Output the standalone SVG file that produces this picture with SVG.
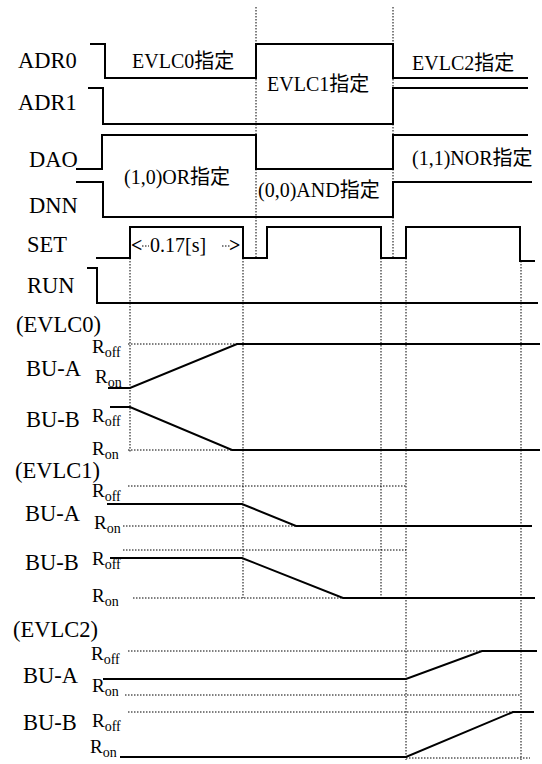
<svg xmlns="http://www.w3.org/2000/svg" width="542" height="764" viewBox="0 0 542 764">
<style>
text{font-family:'Liberation Serif','Times New Roman',serif;fill:#000}
.cjk{font-family:'Noto Sans CJK JP',sans-serif}
.lbl{font-size:22.5px}
.note{font-size:20px}
.arr{font-size:20px;font-weight:bold}
.r{font-size:19px}
.sub{font-size:14px}
.sig{fill:none;stroke:#000;stroke-width:2}
.dot{fill:none;stroke:#000;stroke-width:1;stroke-dasharray:1.5,1.5}
</style>
<rect width="542" height="764" fill="#fff"/>
<g id="connectors">
<path class="dot" d="M256,7V258M393,7V258M130,258V453M243,258V598M381,258V598M406,258V760M521,261V760"/>
<path class="dot" d="M128,344H237M128,450H232M128,486H406M123,526H296M123,550H406M133,598H343M128,651H482M125,695H521M128,712H513M406,758H530"/>
<path class="dot" d="M142,246H149M222,246H230"/>
</g>
<g id="ADR0"><text class="lbl" x="18" y="68">ADR0</text><path class="sig" d="M90,44H105V78H256V44H393V78H528"/></g>
<g id="ADR1"><text class="lbl" x="18" y="110">ADR1</text><path class="sig" d="M88,88H103V124H393V88H528"/></g>
<g id="DAO"><text class="lbl" x="29" y="167">DAO</text><path class="sig" d="M76,169H102V135H256V169H393V135H528"/></g>
<g id="DNN"><text class="lbl" x="29" y="213">DNN</text><path class="sig" d="M76,182H103V217H393V182H532"/></g>
<g id="SET"><text class="lbl" x="27" y="252">SET</text><path class="sig" d="M96,258H130V227H243V258H267V227H381V258H406V227H520V261H535"/></g>
<g id="RUN"><text class="lbl" x="27" y="293">RUN</text><path class="sig" d="M87,268H97V303H538"/></g>
<g id="labels">
<text class="note" x="132" y="68">EVLC0<tspan class="cjk">指定</tspan></text>
<text class="note" x="267" y="91">EVLC1<tspan class="cjk">指定</tspan></text>
<text class="note" x="412" y="70">EVLC2<tspan class="cjk">指定</tspan></text>
<text class="note" x="124" y="184">(1,0)OR<tspan class="cjk">指定</tspan></text>
<text class="note" x="258" y="197">(0,0)AND<tspan class="cjk">指定</tspan></text>
<text class="note" x="412" y="165">(1,1)NOR<tspan class="cjk">指定</tspan></text>
<text class="arr" x="131" y="252">&lt;</text>
<text class="note" x="150" y="252">0.17[s]</text>
<text class="arr" x="229" y="252">&gt;</text>
</g>
<g id="EVLC0">
<text class="lbl" x="16" y="332">(EVLC0)</text>
<text class="lbl" x="26" y="376">BU-A</text>
<text class="lbl" x="26" y="427">BU-B</text>
<text class="r" x="92" y="353">R<tspan class="sub" dy="4">off</tspan></text>
<text class="r" x="95" y="383">R<tspan class="sub" dy="4">on</tspan></text>
<text class="r" x="92" y="422">R<tspan class="sub" dy="4">off</tspan></text>
<text class="r" x="92" y="455">R<tspan class="sub" dy="4">on</tspan></text>
<path class="sig" d="M108,388H130L237,344H540"/>
<path class="sig" d="M110,407H130L232,450H540"/>
</g>
<g id="EVLC1">
<text class="lbl" x="15" y="478">(EVLC1)</text>
<text class="lbl" x="25" y="521">BU-A</text>
<text class="lbl" x="25" y="570">BU-B</text>
<text class="r" x="92" y="497">R<tspan class="sub" dy="4">off</tspan></text>
<text class="r" x="94" y="529">R<tspan class="sub" dy="4">on</tspan></text>
<text class="r" x="92" y="565">R<tspan class="sub" dy="4">off</tspan></text>
<text class="r" x="92" y="602">R<tspan class="sub" dy="4">on</tspan></text>
<path class="sig" d="M107,504H242L296,526H532"/>
<path class="sig" d="M110,558H242L343,598H535"/>
</g>
<g id="EVLC2">
<text class="lbl" x="13" y="637">(EVLC2)</text>
<text class="lbl" x="23" y="683">BU-A</text>
<text class="lbl" x="23" y="730">BU-B</text>
<text class="r" x="91" y="660">R<tspan class="sub" dy="4">off</tspan></text>
<text class="r" x="92" y="692">R<tspan class="sub" dy="4">on</tspan></text>
<text class="r" x="92" y="727">R<tspan class="sub" dy="4">off</tspan></text>
<text class="r" x="90" y="753">R<tspan class="sub" dy="4">on</tspan></text>
<path class="sig" d="M103,679H406L482,651H537"/>
<path class="sig" d="M120,757H406L513,712H534"/>
</g>
</svg>
